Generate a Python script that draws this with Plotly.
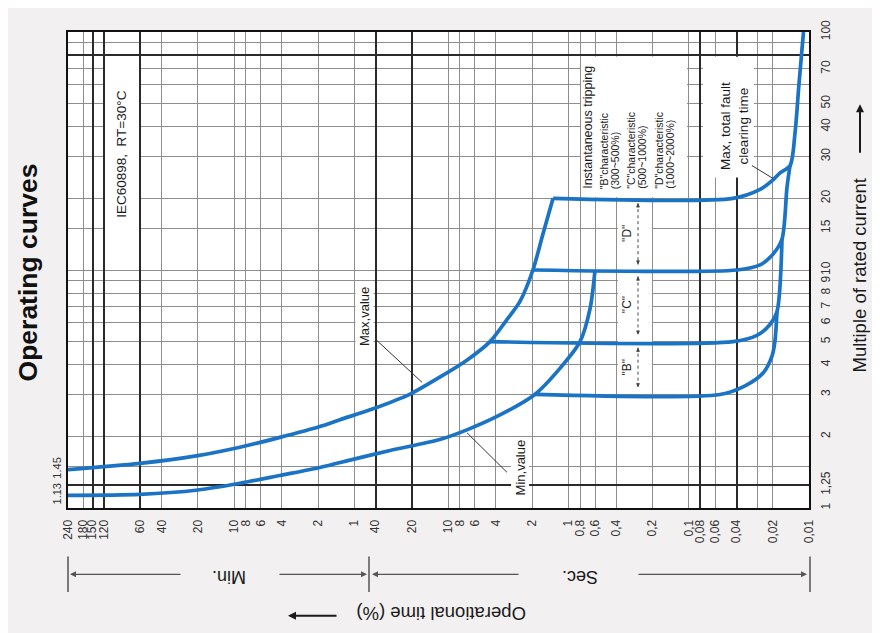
import math
import plotly.graph_objects as go

# ---------------- data (time in seconds, current as multiple of In) ----------------
max_t = [14400, 3640, 1200, 537, 250, 116, 79, 42, 20.7, 11.7, 6.97, 4.48, 3.24, 2.53, 1.97, 1.63, 1.34]
max_i = [1.45, 1.54, 1.66, 1.80, 1.98, 2.20, 2.35, 2.61, 3.01, 3.55, 4.18, 5.0, 6.19, 7.36, 10.0, 14.1, 20.0]

min_t = [14400, 3640, 1200, 537, 250, 116, 61.7, 30.3, 11.7, 6.97, 3.70, 1.90, 1.17, 0.80, 0.66, 0.60]
min_i = [1.13, 1.14, 1.19, 1.27, 1.37, 1.48, 1.60, 1.745, 1.94, 2.13, 2.46, 3.0, 3.87, 5.0, 6.88, 10.0]

b_t = [1.90, 0.055, 0.034, 0.0241, 0.0203, 0.0192, 0.01845]
b_i = [3.0, 3.0, 3.26, 3.69, 4.35, 5.01, 6.68]

c_t = [4.48, 0.0428, 0.0271, 0.0211, 0.01845, 0.01676]
c_i = [5.0, 5.0, 5.31, 5.90, 6.68, 13.5]

d_t = [1.97, 0.0397, 0.0255, 0.0199, 0.01676, 0.01524, 0.01439]
d_i = [10.0, 10.0, 10.5, 11.66, 13.5, 22.2, 27.4]

top_t = [1.34, 0.0428, 0.0255, 0.0199, 0.0174, 0.01439, 0.01307, 0.01211, 0.01111]
top_i = [20.0, 20.0, 21.8, 23.9, 25.6, 27.4, 37.6, 60.7, 100]

# tick labels
x_tick_vals = [14400, 10800, 9000, 7200, 3600, 2400, 1200, 600, 480, 360, 240, 120, 60,
               40, 20, 10, 8, 6, 4, 2, 1, 0.8, 0.6, 0.4, 0.2, 0.1, 0.08, 0.06, 0.04, 0.02, 0.01]
x_tick_text = ['240', '180', '150', '120', '60', '40', '20', '10', '8', '6', '4', '2', '1',
               '40', '20', '10', '8', '6', '4', '2', '1', '0,8', '0,6', '0,4', '0,2', '0,1',
               '0,08', '0,06', '0,04', '0,02', '0,01']
x_dark_grid = [9000, 7200, 3600, 40, 20, 0.08, 0.04]
x_light_grid = [v for v in x_tick_vals if v not in x_dark_grid] + [0.027]

y_tick_vals = [1, 1.25, 2, 3, 4, 5, 6, 7, 8, 9, 10, 15, 20, 30, 40, 50, 70, 100]
y_tick_text = ['1', '1,25', '2', '3', '4', '5', '6', '7', '8', '9', '10', '15', '20', '30',
               '40', '50', '70', '100']
y_light_grid = [1.5, 2, 3, 4, 5, 6, 7, 8, 9, 10, 15, 20, 30, 40, 50, 60, 70, 90]
y_dark_grid = [1.25, 80]
y_left_vals = [1.13, 1.45]
y_left_text = ['1.13', '1.45']

# ---------------- layout helpers (page pixel coordinates) ----------------
OFF = 8                      # default body margin of the html page
W, H = 880 - OFF, 633 - OFF  # figure size so that the page fits the window
LX, RX, TY, BY = 68, 809, 27, 508
XR = [math.log10(14400), math.log10(0.01)]
YR = [0, 2]
FONT = 'Liberation Sans, Arial, sans-serif'
BLUE = '#1a73c4'
LIGHT = '#8e8e8e'
DARK = '#2a2a2a'


def px(x):
    return (x - LX) / (RX - LX)


def py(y):
    return (BY - y) / (BY - TY)


def t_at(x):
    return 10 ** (XR[0] + px(x) * (XR[1] - XR[0]))


def i_at(y):
    return 10 ** (YR[0] + py(y) * (YR[1] - YR[0]))


fig = go.Figure()

# white label panels (drawn above the grid, below the curves)
panels = [(105, 52, 139, 266), (581, 52, 687, 194), (703, 52, 754, 174), (618, 197, 652, 390)]
for x0, y0, x1, y1 in panels:
    fig.add_trace(go.Scatter(
        x=[t_at(x0), t_at(x1), t_at(x1), t_at(x0), t_at(x0)],
        y=[i_at(y1), i_at(y1), i_at(y0), i_at(y0), i_at(y1)],
        mode='lines', fill='toself', fillcolor='white', line=dict(width=0, color='white'),
        hoverinfo='skip', showlegend=False))

curve_line = dict(color=BLUE, width=3.7, shape='spline', smoothing=0.8)
for tt, ii in [(max_t, max_i), (min_t, min_i), (b_t, b_i), (c_t, c_i), (d_t, d_i), (top_t, top_i)]:
    fig.add_trace(go.Scatter(x=tt, y=ii, mode='lines', line=curve_line,
                             hoverinfo='skip', showlegend=False))
# invisible trace carrying overlay axes
fig.add_trace(go.Scatter(x=[1], y=[1], xaxis='x2', yaxis='y2', mode='markers',
                         marker=dict(opacity=0), hoverinfo='skip', showlegend=False))


def txt(x, y, s, size, angle=-90, color='#1a1a1a', xanchor='center', yanchor='middle', **kw):
    return dict(x=px(x), y=py(y), xref='paper', yref='paper', text=s, showarrow=False,
                textangle=angle, xanchor=xanchor, yanchor=yanchor,
                font=dict(size=size, color=color, family=FONT), **kw)


def arrow(hx, hy, tx, ty, color='#555555', width=1.2, size=1.0):
    return dict(x=px(hx), y=py(hy), xref='paper', yref='paper', ax=tx - hx, ay=ty - hy,
                axref='pixel', ayref='pixel', text='', showarrow=True, arrowhead=2,
                arrowsize=size, arrowwidth=width, arrowcolor=color, standoff=0,
                xanchor='center', yanchor='middle')


def seg(x0, y0, x1, y1, color='#333333', width=1.0, dash='solid'):
    return dict(type='line', xref='paper', yref='paper', x0=px(x0), x1=px(x1), y0=py(y0),
                y1=py(y1), line=dict(color=color, width=width, dash=dash), layer='above')


shapes = [
    # pointers
    seg(375, 337, 422, 381),
    seg(507, 472, 467, 432),
    seg(752, 162, 773, 175),
    # B/C/D dotted markers
    seg(638, 200, 638, 262, color='#444444', width=1, dash='dot'),
    seg(638, 274, 638, 333, color='#444444', width=1, dash='dot'),
    seg(638, 346, 638, 386, color='#444444', width=1, dash='dot'),
    # Min / Sec bars
    seg(68, 557, 68, 593, color='#555555', width=1.5),
    seg(369, 557, 369, 593, color='#555555', width=1.5),
    seg(810, 557, 810, 593, color='#555555', width=1.5),
]

annotations = [
    txt(28, 270, '<b>Operating curves</b>', 26.5, color='#111111'),
    txt(859, 273, 'Multiple of rated current', 18.5),
    txt(441, 614, 'Operational time (%)', 18.5, angle=180),
    txt(229, 577, 'Min.', 18, angle=180),
    txt(580, 577, 'Sec.', 18, angle=180),
    txt(122, 151, 'IEC60898,  RT=30°C', 13.5),
    txt(588, 188, 'Instantaneous tripping', 12.5, yanchor='bottom'),
    txt(604, 188, '"B"characteristic', 10.5, yanchor='bottom'),
    txt(615, 188, '(300~500%)', 10.5, yanchor='bottom'),
    txt(631, 188, '"C"characteristic', 10.5, yanchor='bottom'),
    txt(642, 188, '(500~1000%)', 10.5, yanchor='bottom'),
    txt(659, 188, '"D"characteristic', 10.5, yanchor='bottom'),
    txt(670, 188, '(1000~2000%)', 10.5, yanchor='bottom'),
    txt(734, 122, 'Max, total fault<br>clearing time', 13.5),
    txt(364, 315, 'Max,value', 13, bgcolor='white'),
    txt(520, 467, 'Min,value', 13, bgcolor='white'),
    txt(627, 231, '"D"', 12),
    txt(627, 303, '"C"', 12),
    txt(627, 366, '"B"', 12),
    # arrows
    arrow(70, 575, 182, 575),
    arrow(367, 575, 278, 575),
    arrow(372, 575, 520, 575),
    arrow(807, 575, 637, 575),
    arrow(288, 617, 338, 617, color='#1a1a1a', width=2, size=0.8),
    arrow(860, 100, 860, 150, color='#1a1a1a', width=2, size=0.8),
    # small heads of B/C/D markers
    arrow(638, 200, 638, 206, color='#444444', width=1, size=0.8),
    arrow(638, 262, 638, 256, color='#444444', width=1, size=0.8),
    arrow(638, 274, 638, 280, color='#444444', width=1, size=0.8),
    arrow(638, 333, 638, 327, color='#444444', width=1, size=0.8),
    arrow(638, 346, 638, 352, color='#444444', width=1, size=0.8),
    arrow(638, 386, 638, 380, color='#444444', width=1, size=0.8),
]

tickfont = dict(size=12, color='#333333', family=FONT)
fig.update_layout(
    width=W, height=H,
    margin=dict(l=LX - OFF, r=(W + OFF) - RX, t=TY - OFF, b=(H + OFF) - BY, pad=0),
    paper_bgcolor='#f2f0f1', plot_bgcolor='white',
    showlegend=False,
    xaxis=dict(type='log', range=XR, tickmode='array', tickvals=x_tick_vals, ticktext=x_tick_text,
               tickangle=-90, tickfont=tickfont, ticks='', ticklabelstandoff=5,
               showgrid=False, zeroline=False, showline=True, mirror=True,
               linecolor='#111111', linewidth=2,
               minor=dict(tickmode='array', tickvals=x_light_grid, showgrid=True,
                          gridcolor=LIGHT, gridwidth=1.2, ticks='')),
    xaxis2=dict(type='log', range=XR, overlaying='x', anchor='y', tickmode='array',
                tickvals=x_dark_grid, showticklabels=False, ticks='', showgrid=True,
                gridcolor=DARK, gridwidth=1.7, zeroline=False, showline=False),
    yaxis=dict(type='log', range=YR, side='right', tickmode='array', tickvals=y_tick_vals,
               ticktext=y_tick_text, tickangle=-90, tickfont=tickfont, ticks='',
               ticklabelstandoff=5, showgrid=False, zeroline=False, showline=True, mirror=True,
               linecolor='#111111', linewidth=2,
               minor=dict(tickmode='array', tickvals=y_light_grid, showgrid=True,
                          gridcolor=LIGHT, gridwidth=1.2, ticks='')),
    yaxis2=dict(type='log', range=YR, overlaying='y', side='left', anchor='x', tickmode='array',
                tickvals=y_left_vals, ticktext=y_left_text, tickangle=-90,
                tickfont=dict(size=11, color='#333333', family=FONT), ticks='',
                ticklabelstandoff=4, showgrid=False, zeroline=False, showline=False,
                minor=dict(tickmode='array', tickvals=y_dark_grid, showgrid=True,
                           gridcolor=DARK, gridwidth=1.7, ticks='')),
    shapes=shapes,
    annotations=annotations,
)

fig.write_html('out.html')
